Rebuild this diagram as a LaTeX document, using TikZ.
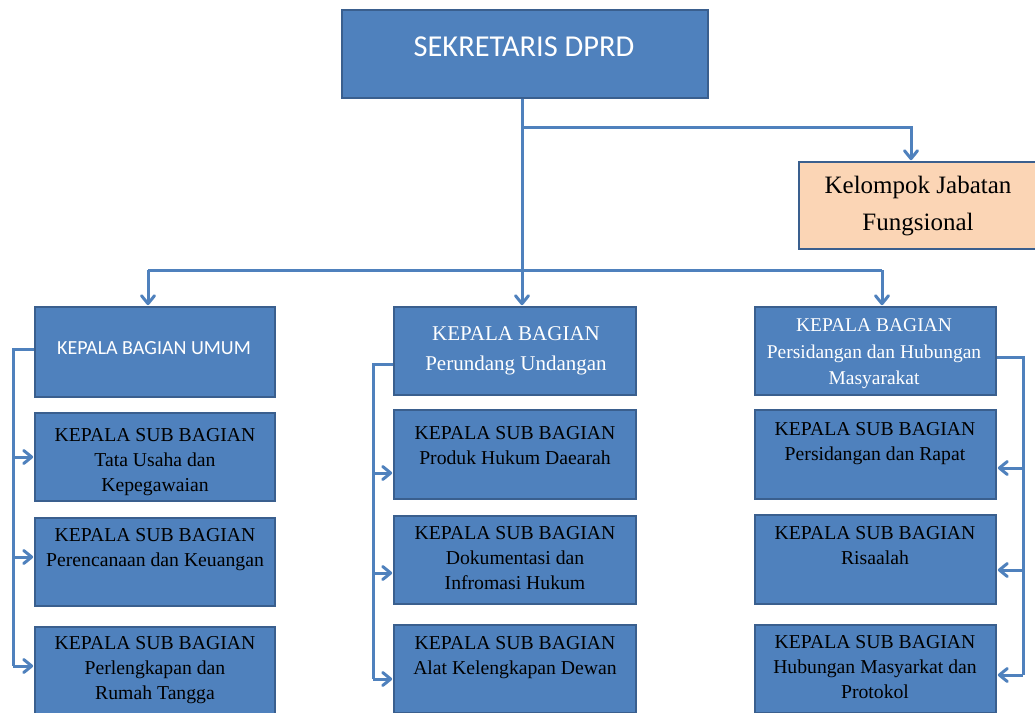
\documentclass[tikz,border=0pt]{standalone}
\usepackage{fontspec}
\setmainfont{Liberation Serif}
\newfontfamily\calibri{Carlito}
\definecolor{blu}{HTML}{4F81BD}
\definecolor{bord}{HTML}{3A5F8E}
\definecolor{peach}{HTML}{FBD5B5}
\tikzset{
  box/.style={draw=bord, fill=blu, line width=1.6pt, inner sep=0pt},
  conn/.style={draw=blu, line width=3pt},
  chev/.style={draw=blu, line width=3pt, line join=round, line cap=round},
  stxt/.style={inner sep=0pt, align=center, font=\fontsize{19.7}{25}\selectfont},
}
\begin{document}
\begin{tikzpicture}[x=1pt,y=-1pt]
\useasboundingbox (0,0) rectangle (1035,712);
\clip (0,0) rectangle (1035,712);
% boxes
\node[box, minimum width=366pt, minimum height=88pt] (sek) at (525,54) {};
\node[box, fill=peach, minimum width=241pt, minimum height=87pt] (kel) at (919.5,205.5) {};
\node[box, minimum width=240pt, minimum height=90pt] (l0) at (155,352) {};
\node[box, minimum width=240pt, minimum height=88pt] (l1) at (155,457) {};
\node[box, minimum width=240pt, minimum height=88pt] (l2) at (155,562) {};
\node[box, minimum width=240pt, minimum height=88pt] (l3) at (155,671) {};
\node[box, minimum width=242pt, minimum height=88pt] (m0) at (515,351) {};
\node[box, minimum width=242pt, minimum height=89pt] (m1) at (515,454.5) {};
\node[box, minimum width=242pt, minimum height=88pt] (m2) at (515,560) {};
\node[box, minimum width=242pt, minimum height=88pt] (m3) at (515,669) {};
\node[box, minimum width=241pt, minimum height=88pt] (r0) at (875.5,351) {};
\node[box, minimum width=241pt, minimum height=89pt] (r1) at (875.5,454.5) {};
\node[box, minimum width=241pt, minimum height=89pt] (r2) at (875.5,559.5) {};
\node[box, minimum width=241pt, minimum height=88pt] (r3) at (875.5,669) {};
% texts
\node[inner sep=0pt, text=white, font=\calibri\fontsize{30.4}{36}\selectfont] (sekt) at (524,47) {SEKRETARIS DPRD};
\node[inner sep=0pt, align=center, anchor=north, font=\fontsize{25}{37}\selectfont] (kelt) at (918,176) {Kelompok Jabatan\\Fungsional};
\node[inner sep=0pt, text=white, font=\calibri\fontsize{20}{24}\selectfont] (l0t) at (154,348) {KEPALA BAGIAN UMUM};
\node[stxt, anchor=north] (l1t) at (155,428.4) {KEPALA SUB BAGIAN\\Tata Usaha dan\\Kepegawaian};
\node[stxt, anchor=north] (l2t) at (155,528.4) {KEPALA SUB BAGIAN\\Perencanaan dan Keuangan};
\node[stxt, anchor=north] (l3t) at (155,636.4) {KEPALA SUB BAGIAN\\Perlengkapan dan\\Rumah Tangga};
\node[inner sep=0pt, align=center, anchor=north, text=white, font=\fontsize{21}{30}\selectfont] (m0t) at (516,326) {KEPALA BAGIAN\\Perundang Undangan};
\node[stxt, anchor=north] (m1t) at (515,426.4) {KEPALA SUB BAGIAN\\Produk Hukum Daearah};
\node[stxt, anchor=north] (m2t) at (515,526.4) {KEPALA SUB BAGIAN\\Dokumentasi dan\\Infromasi Hukum};
\node[stxt, anchor=north] (m3t) at (515,636.4) {KEPALA SUB BAGIAN\\Alat Kelengkapan Dewan};
\node[inner sep=0pt, align=center, anchor=north, text=white, font=\fontsize{19.5}{26.5}\selectfont] (r0t) at (874,318.5) {KEPALA BAGIAN\\Persidangan dan Hubungan\\Masyarakat};
\node[stxt, anchor=north] (r1t) at (875,422.4) {KEPALA SUB BAGIAN\\Persidangan dan Rapat};
\node[stxt, anchor=north] (r2t) at (875,526.4) {KEPALA SUB BAGIAN\\Risaalah};
\node[stxt, anchor=north] (r3t) at (875,635.4) {KEPALA SUB BAGIAN\\Hubungan Masyarkat dan\\Protokol};
% helper coordinates
\coordinate (xm) at (522,0);
\coordinate (xl) at (148,0);
\coordinate (xr) at (882,0);
\coordinate (xk) at (911,0);
\coordinate (yk) at (0,127);
\coordinate (yb) at (0,270);
\coordinate (bl) at (13,0);
\coordinate (bm) at (373,0);
\coordinate (br) at (1023,0);
% tip points (just outside the boxes)
\coordinate (tm0) at ([yshift=2.5pt]m0.north -| xm);
\coordinate (tk)  at ([yshift=2.5pt]kel.north -| xk);
\coordinate (tl0) at ([yshift=2.5pt]l0.north -| xl);
\coordinate (tr0) at ([yshift=2.5pt]r0.north -| xr);
\coordinate (tl1) at ([xshift=-2.5pt]l1.west |- 0,457);
\coordinate (tl2) at ([xshift=-2.5pt]l2.west |- 0,557);
\coordinate (tl3) at ([xshift=-2.5pt]l3.west |- 0,666);
\coordinate (tm1) at ([xshift=-2.5pt]m1.west |- 0,473);
\coordinate (tm2) at ([xshift=-2.5pt]m2.west |- 0,573);
\coordinate (tm3) at ([xshift=-2.5pt]m3.west |- 0,679);
\coordinate (tr1) at ([xshift=2.5pt]r1.east |- 0,468);
\coordinate (tr2) at ([xshift=2.5pt]r2.east |- 0,570);
\coordinate (tr3) at ([xshift=2.5pt]r3.east |- 0,675);
% top connectors
\draw[conn] (sek.south -| xm) -- (tm0);
\draw[conn] (xm |- yk) -| (tk);
\draw[conn] (xl |- yb) -- (xr |- yb);
\draw[conn] (xl |- yb) -- (tl0);
\draw[conn] (xr |- yb) -- (tr0);
% left bracket
\draw[conn] (l0.west |- 0,349) -- (bl |- 0,349) -- (bl |- 0,666);
\draw[conn] (bl |- 0,457) -- (tl1);
\draw[conn] (bl |- 0,557) -- (tl2);
\draw[conn] (bl |- 0,666) -- (tl3);
% middle bracket
\draw[conn] (m0.west |- 0,364) -- (bm |- 0,364) -- (bm |- 0,679);
\draw[conn] (bm |- 0,473) -- (tm1);
\draw[conn] (bm |- 0,573) -- (tm2);
\draw[conn] (bm |- 0,679) -- (tm3);
% right bracket
\draw[conn] (r0.east |- 0,357) -- (br |- 0,357) -- (br |- 0,675);
\draw[conn] (br |- 0,468) -- (tr1);
\draw[conn] (br |- 0,570) -- (tr2);
\draw[conn] (br |- 0,675) -- (tr3);
% arrowheads (open chevrons)
\foreach \p in {tm0,tk,tl0,tr0}
  \draw[chev] ([shift={(-6.5,-8)}]\p) -- (\p) -- ([shift={(6.5,-8)}]\p);
\foreach \p in {tl1,tl2,tl3,tm1,tm2,tm3}
  \draw[chev] ([shift={(-8,-6.5)}]\p) -- (\p) -- ([shift={(-8,6.5)}]\p);
\foreach \p in {tr1,tr2,tr3}
  \draw[chev] ([shift={(8,-6.5)}]\p) -- (\p) -- ([shift={(8,6.5)}]\p);
\end{tikzpicture}
\end{document}
